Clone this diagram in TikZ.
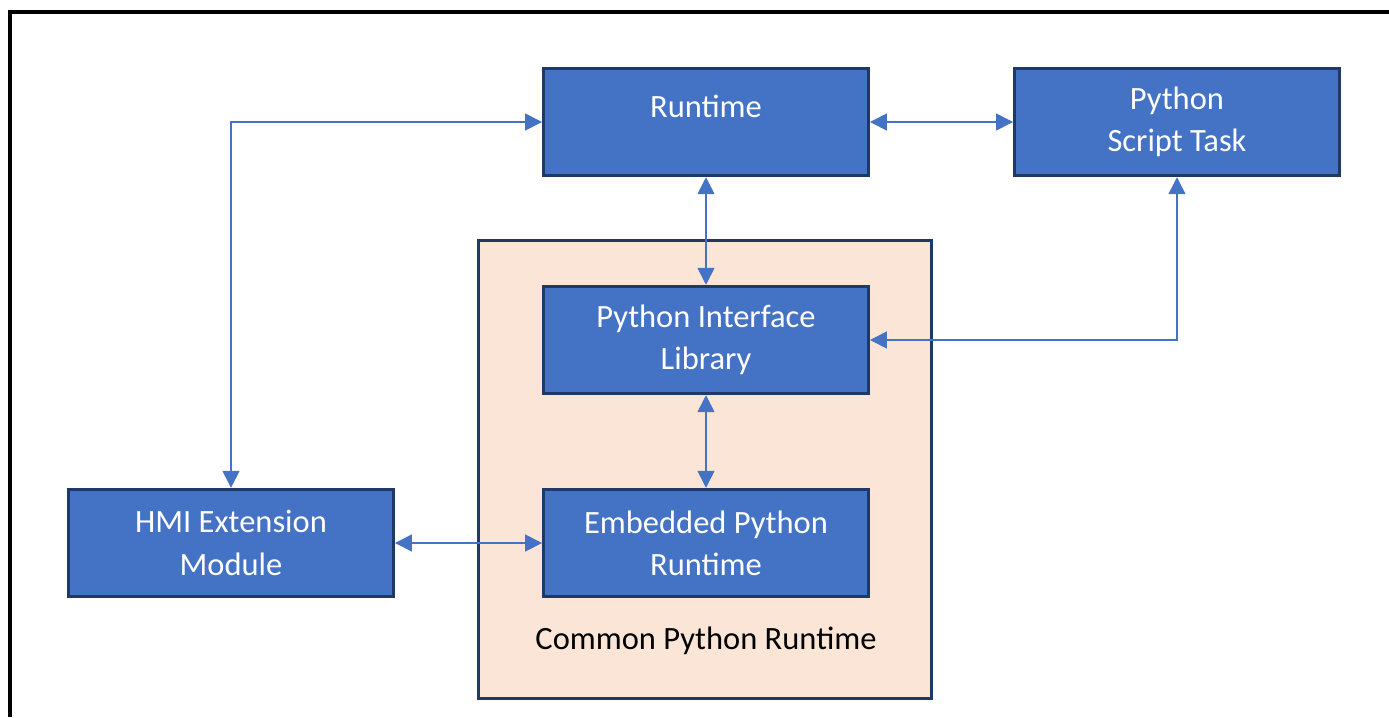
\documentclass[tikz,border=0pt]{standalone}
\usepackage{fontspec}
\setmainfont{Carlito}
\usepackage{xcolor}
\usetikzlibrary{arrows.meta, positioning}

\definecolor{boxblue}{HTML}{4472C4}
\definecolor{boxedge}{HTML}{1F3864}
\definecolor{peach}{HTML}{FBE5D6}

\tikzset{
    block/.style={draw=boxedge, line width=1.7pt, fill=boxblue, text=white,
        minimum width=6.5cm, minimum height=2.15cm, align=center,
        font=\fontsize{18.5}{24}\selectfont},
    link/.style={boxblue, line width=0.85pt,
        {Triangle[length=0.34cm, width=0.34cm]}-{Triangle[length=0.34cm, width=0.34cm]}}
}

\begin{document}
\begin{tikzpicture}[x=0.02cm, y=-0.02cm]
    \useasboundingbox (0,0) rectangle (1389,717);
    \draw[black, line width=1.8pt] (10,717) -- (10,12) -- (1389,12);

    % container
    \node[draw=boxedge, line width=1.7pt, fill=peach, minimum width=9.05cm, minimum height=9.15cm] (cpr) at (705,469.5) {};
    \node[font=\fontsize{18.5}{24}\selectfont] (cprlabel) at (706,641) {Common Python Runtime};

    % blocks
    \node[block, text depth=0.62cm] (runtime) at (706,122) {Runtime};
    \node[block] (scripttask) at (1177,122) {Python\\Script Task};
    \node[block] (pylib) at (706,340) {Python Interface\\Library};
    \node[block] (embedded) at (706,543) {Embedded Python\\Runtime};
    \node[block] (hmi) at (231,543) {HMI Extension\\Module};

    % links
    \draw[link] (runtime) -- (scripttask);
    \draw[link] (runtime) -- (pylib);
    \draw[link] (pylib) -- (embedded);
    \draw[link] (hmi) -- (embedded);
    \draw[link] (runtime.west) -| (hmi.north);
    \draw[link] (scripttask.south) |- (pylib.east);
\end{tikzpicture}
\end{document}
